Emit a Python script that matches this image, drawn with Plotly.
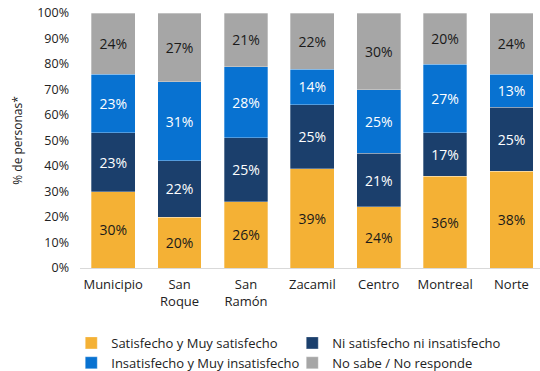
import plotly.graph_objects as go

# Districts and survey responses (% of people)
zonas = ["Municipio", "San<br>Roque", "San<br>Ramón", "Zacamil", "Centro", "Montreal", "Norte"]
satisfecho = [30, 20, 26, 39, 24, 36, 38]
ni_ni = [23, 22, 25, 25, 21, 17, 25]
insatisfecho = [23, 31, 28, 14, 25, 27, 13]
no_sabe = [24, 27, 21, 22, 30, 20, 24]

series = [
    ("Satisfecho y Muy satisfecho", satisfecho, "#F4B135", "#1a1a1a"),
    ("Ni satisfecho ni insatisfecho", ni_ni, "#1B3F6C", "#ffffff"),
    ("Insatisfecho y Muy insatisfecho", insatisfecho, "#0872D1", "#ffffff"),
    ("No sabe / No responde", no_sabe, "#A6A6A6", "#1a1a1a"),
]

FONT = "Open Sans"

fig = go.Figure()
for name, vals, color, tcolor in series:
    fig.add_trace(go.Bar(
        name=name,
        x=list(range(len(zonas))),
        y=vals,
        text=[f"{v}%" for v in vals],
        textposition="inside",
        insidetextanchor="middle",
        textangle=0,
        constraintext="none",
        textfont=dict(family=FONT, size=14, color=tcolor),
        marker=dict(color=color, line=dict(color="rgba(255,255,255,0.5)", width=0.6)),
        width=0.66,
        hoverinfo="skip",
    ))

fig.update_layout(
    barmode="stack",
    width=540,
    height=371,
    margin=dict(l=80, r=0, t=13, b=103, autoexpand=False),
    paper_bgcolor="white",
    plot_bgcolor="white",
    font=dict(family=FONT, size=12, color="#222222"),
    xaxis=dict(
        tickmode="array",
        tickvals=list(range(len(zonas))),
        ticktext=zonas,
        range=[-0.5, 6.43],
        showline=True,
        linecolor="#D9D9D9",
        linewidth=1,
        ticks="",
        showgrid=False,
        ticklabelstandoff=4,
        tickfont=dict(family=FONT, size=13, color="#222222"),
    ),
    yaxis=dict(
        range=[0, 100],
        tickvals=list(range(0, 101, 10)),
        ticktext=[f"{v}%" for v in range(0, 101, 10)],
        showgrid=False,
        zeroline=False,
        ticks="",
        ticklabelstandoff=10,
        tickfont=dict(family=FONT, size=12.5, color="#222222"),
        title=dict(text="% de personas*", font=dict(family=FONT, size=12, color="#222222"), standoff=12),
    ),
    legend=dict(
        orientation="h",
        x=-0.019,
        xanchor="left",
        y=-0.235,
        yanchor="top",
        entrywidth=176,
        traceorder="normal",
        font=dict(family=FONT, size=13, color="#222222"),
        itemwidth=30,
        tracegroupgap=0,
    ),
    bargap=0.34,
)

fig.write_html("out.html")
